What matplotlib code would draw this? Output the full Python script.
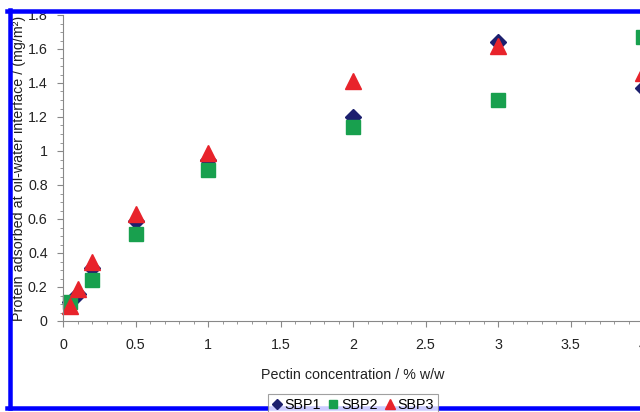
import numpy as np
import matplotlib
matplotlib.use('Agg')
import matplotlib.pyplot as plt
from matplotlib.lines import Line2D
from matplotlib.ticker import MultipleLocator

plt.rcParams['font.family'] = ['Liberation Sans', 'DejaVu Sans']

# 数据
conc = [0.05, 0.1, 0.2, 0.5, 1, 2, 3, 4]
sbp1 = [0.11, 0.16, 0.31, 0.59, 0.95, 1.20, 1.64, 1.37]
sbp2 = [0.11, np.nan, 0.24, 0.51, 0.89, 1.14, 1.30, 1.67]
sbp3 = [0.09, 0.19, 0.35, 0.63, 0.99, 1.41, 1.62, 1.46]
x_ticks = [0, 0.5, 1, 1.5, 2, 2.5, 3, 3.5, 4]
x_tick_labels = ['0', '0.5', '1', '1.5', '2', '2.5', '3', '3.5', '4']
y_ticks = [0, 0.2, 0.4, 0.6, 0.8, 1.0, 1.2, 1.4, 1.6, 1.8]
y_tick_labels = ['0', '0.2', '0.4', '0.6', '0.8', '1', '1.2', '1.4', '1.6', '1.8']

W, H = 640, 412
FS = 10.3
fig = plt.figure(figsize=(W / 100, H / 100), dpi=100)
ax = fig.add_axes([63 / W, 1 - 321 / H, (643 - 63) / W, (321 - 15) / H])

ax.plot(conc, sbp1, 'D', color='#1c1f6e', markersize=8, label='SBP1', clip_on=False)
ax.plot(conc, sbp2, 's', color='#18a04e', markersize=10, label='SBP2', clip_on=False)
ax.plot(conc, sbp3, '^', color='#e8232b', markersize=11, label='SBP3', clip_on=False)

ax.set_xlim(0, 4)
ax.set_ylim(0, 1.8)
ax.set_xticks(x_ticks)
ax.set_xticklabels(x_tick_labels)
ax.set_yticks(y_ticks)
ax.set_yticklabels(y_tick_labels)
ax.xaxis.set_minor_locator(MultipleLocator(0.1))
ax.yaxis.set_minor_locator(MultipleLocator(0.05))
ax.tick_params(which='both', direction='out', color='#888888', labelsize=FS,
               labelcolor='#222222')
ax.tick_params(which='major', length=4)
ax.tick_params(which='minor', length=2)
ax.tick_params(axis='x', pad=8)
ax.tick_params(axis='y', pad=7)

for side in ['top', 'right']:
    ax.spines[side].set_visible(False)
for side in ['left', 'bottom']:
    ax.spines[side].set_color('#888888')
    ax.spines[side].set_linewidth(0.8)

ax.set_xlabel('Pectin concentration / % w/w', fontsize=FS, color='#222222', labelpad=12)
ax.set_ylabel('Protein adsorbed at oil-water interface / (mg/m²)', fontsize=FS,
              color='#222222')
ax.yaxis.set_label_coords(-37 / (643 - 63), (321 - 168) / (321 - 15))

leg = fig.legend(loc='center', bbox_to_anchor=(353 / W, 1 - 405 / H), ncol=3,
                 fontsize=FS, frameon=True, fancybox=False, handlelength=0.7,
                 handletextpad=0.2, columnspacing=0.5, borderpad=0.25,
                 markerscale=0.6)
leg.get_frame().set_edgecolor('#888888')
leg.get_frame().set_linewidth(0.8)

# 蓝色边框
bw = 4.5
fig.add_artist(Line2D([9.5 / W, 9.5 / W], [1 - 408 / H, 1 - 10 / H], color='#0000ff',
                      linewidth=bw * 0.72, transform=fig.transFigure))
fig.add_artist(Line2D([7 / W, 1], [1 - 10.5 / H, 1 - 10.5 / H], color='#0000ff',
                      linewidth=bw * 0.72, transform=fig.transFigure))
fig.add_artist(Line2D([7 / W, 1], [1 - 408 / H, 1 - 408 / H], color='#0000ff',
                      linewidth=bw * 0.72, transform=fig.transFigure))

fig.savefig('out.png', dpi=100)
plt.close(fig)
